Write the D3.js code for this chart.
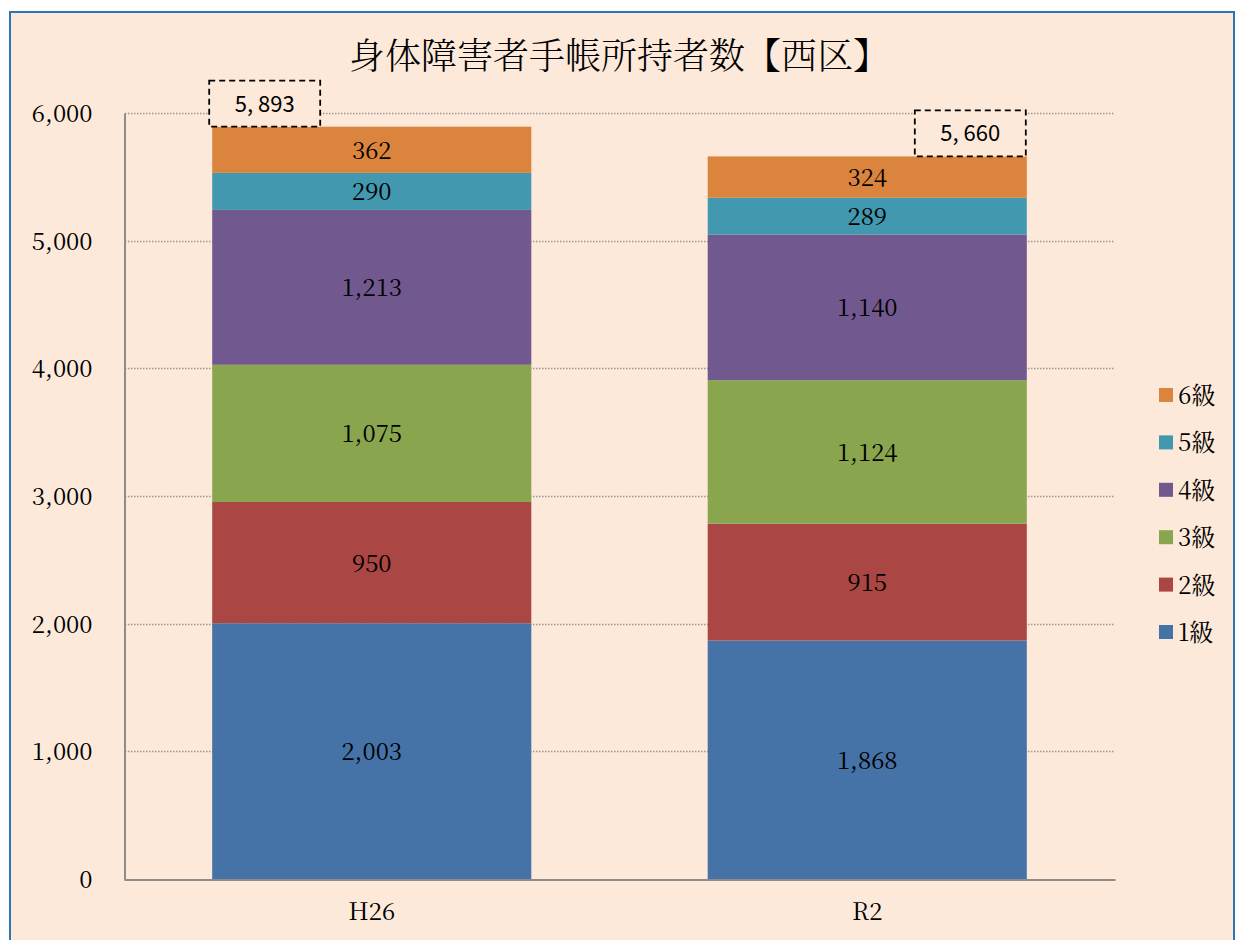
<!DOCTYPE html>
<html>
<head>
<meta charset="utf-8">
<script src="https://cdn.jsdelivr.net/npm/d3@7"></script>
<style>
  body { margin: 0; background: #fff; }
  svg { display: block; }
</style>
</head>
<body>
<svg id="chart"></svg>
<script>
const categories = ["H26", "R2"];
const grades = ["1級", "2級", "3級", "4級", "5級", "6級"];
const grade1 = [2003, 1868];
const grade2 = [950, 915];
const grade3 = [1075, 1124];
const grade4 = [1213, 1140];
const grade5 = [290, 289];
const grade6 = [362, 324];
const totals = [5893, 5660];
const totalLabels = ["5, 893", "5, 660"];
const yTicks = [0, 1000, 2000, 3000, 4000, 5000, 6000];
const colors = ["#4572A7", "#AA4643", "#89A54E", "#71588F", "#4198AF", "#DB843D"];

const width = 1236;
const height = 940;
const serif = "'Noto Serif CJK JP', 'Liberation Serif', serif";

let svg = d3.select("#chart").attr("width", width).attr("height", height);

// background + frame
svg.append("rect")
  .attr("x", 10).attr("y", 12)
  .attr("width", 1224).attr("height", 940)
  .attr("fill", "#FDE9D9")
  .attr("stroke", "#2E75B6")
  .attr("stroke-width", 2);

svg.append("text")
  .text("身体障害者手帳所持者数【西区】")
  .attr("x", 619)
  .attr("y", 69)
  .attr("text-anchor", "middle")
  .style("font-family", serif)
  .style("font-weight", 300)
  .style("font-size", "36px")
  .attr("fill", "#000");

// scales
const xScale = d3.scaleBand()
  .domain(categories)
  .range([124, 1115])
  .paddingInner(0.356)
  .paddingOuter(0.178);

const yScale = d3.scaleLinear()
  .domain([0, 6000])
  .range([879, 113]);

// gridlines
svg.append("g")
  .selectAll("line")
  .data(yTicks.filter((d) => d > 0))
  .enter()
  .append("line")
  .attr("x1", 125)
  .attr("x2", 1115)
  .attr("y1", (d) => Math.round(yScale(d)) + 0.5)
  .attr("y2", (d) => Math.round(yScale(d)) + 0.5)
  .attr("stroke", "#999")
  .attr("stroke-width", 1.3)
  .attr("stroke-dasharray", "1.5,1.5");

// stack
const table = categories.map((c, i) => ({
  cat: c,
  "1級": grade1[i], "2級": grade2[i], "3級": grade3[i],
  "4級": grade4[i], "5級": grade5[i], "6級": grade6[i]
}));
const stacked = d3.stack().keys(grades)(table);

const layers = svg.append("g")
  .selectAll("g")
  .data(stacked)
  .enter()
  .append("g")
  .attr("fill", (d, i) => colors[i]);

layers.selectAll("rect")
  .data((d) => d)
  .enter()
  .append("rect")
  .attr("x", (d) => xScale(d.data.cat))
  .attr("width", xScale.bandwidth())
  .attr("y", (d) => yScale(d[1]))
  .attr("height", (d) => yScale(d[0]) - yScale(d[1]));

// segment labels
layers.selectAll("text")
  .data((d) => d.map((p) => ({ p: p, key: d.key })))
  .enter()
  .append("text")
  .attr("x", (d) => xScale(d.p.data.cat) + xScale.bandwidth() / 2)
  .attr("y", (d) => (yScale(d.p[0]) + yScale(d.p[1])) / 2 + 9)
  .attr("text-anchor", "middle")
  .attr("fill", "#000")
  .style("font-family", serif)
  .style("font-size", "24px")
  .text((d) => d3.format(",")(d.p.data[d.key]));

// axes
let yAxis = d3.axisLeft(yScale).tickValues(yTicks).tickFormat(d3.format(",")).tickSize(0).tickPadding(32);
let gy = svg.append("g")
  .attr("transform", "translate(124.5,0)")
  .call(yAxis);
gy.select(".domain").attr("stroke", "#8c8c8c").attr("stroke-width", 2);
gy.selectAll("text")
  .attr("dy", "0.35em")
  .style("font-family", serif)
  .style("font-size", "24px")
  .attr("fill", "#000");

let xAxis = d3.axisBottom(xScale).tickSize(0).tickPadding(23);
let gx = svg.append("g")
  .attr("transform", "translate(0,879.5)")
  .call(xAxis);
gx.select(".domain").attr("stroke", "#8c8c8c").attr("stroke-width", 2);
gx.selectAll("text")
  .style("font-family", serif)
  .style("font-size", "24px")
  .attr("fill", "#000");

// total boxes
const boxW = 111, boxH = 46;
const boxX = [xScale("H26") - 3, xScale("R2") + xScale.bandwidth() - boxW - 1];
const boxes = svg.append("g")
  .selectAll("g")
  .data(totals)
  .enter()
  .append("g");
boxes.append("rect")
  .attr("x", (d, i) => boxX[i])
  .attr("y", (d) => yScale(d) - boxH)
  .attr("width", boxW)
  .attr("height", boxH)
  .attr("fill", "#FDE9D9")
  .attr("stroke", "#000")
  .attr("stroke-width", 1.8)
  .attr("stroke-dasharray", "6,4");
boxes.append("text")
  .attr("x", (d, i) => boxX[i] + boxW / 2)
  .attr("y", (d) => yScale(d) - boxH / 2 + 8)
  .attr("text-anchor", "middle")
  .style("font-family", "'Noto Sans CJK JP', sans-serif")
  .style("font-size", "22px")
  .attr("fill", "#000")
  .text((d, i) => totalLabels[i]);

// legend
const legendOrder = grades.map((g, i) => i).reverse();
const legend = svg.append("g")
  .selectAll("g")
  .data(legendOrder)
  .enter()
  .append("g")
  .attr("transform", (d, i) => "translate(1159," + (395 + i * 47.4) + ")");
legend.append("rect")
  .attr("x", 0).attr("y", -7)
  .attr("width", 14).attr("height", 14)
  .attr("fill", (d) => colors[d]);
legend.append("text")
  .attr("x", 19)
  .attr("y", 9)
  .style("font-family", serif)
  .style("font-size", "24px")
  .attr("fill", "#000")
  .text((d) => grades[d]);
</script>
</body>
</html>
